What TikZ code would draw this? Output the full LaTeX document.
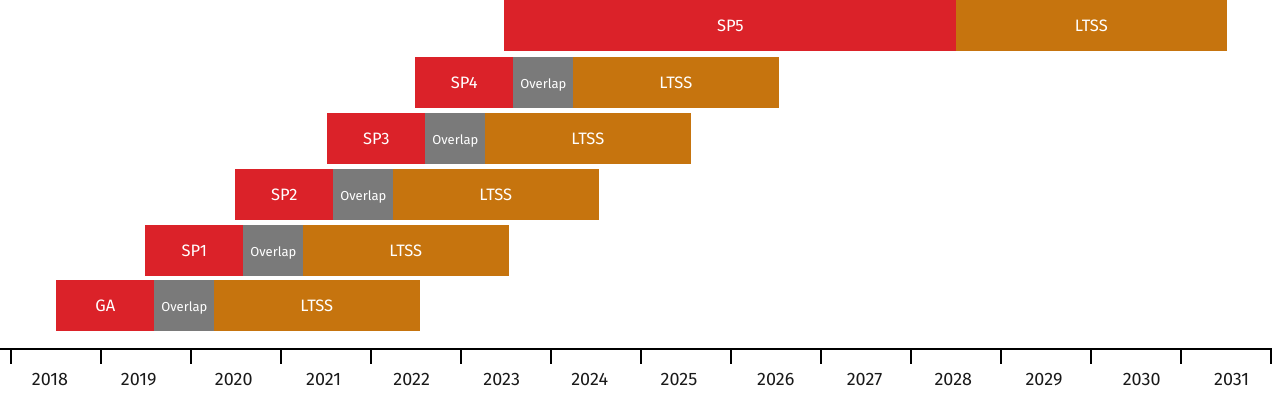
\documentclass[tikz,border=0pt]{standalone}
\usepackage{fontspec}
\setmainfont{Fira Sans}
\definecolor{sred}{RGB}{219,34,41}
\definecolor{sgray}{RGB}{122,122,122}
\definecolor{sorange}{RGB}{198,116,14}
\begin{document}
\begin{tikzpicture}[x=1pt,y=-1pt,
  seg/.style={anchor=north west, inner sep=0pt, minimum height=50pt, text=white,
    text height=11.4pt, text depth=0pt, font=\fontsize{16.5}{16.5}\selectfont, line width=0.6pt},
  relbox/.style={seg, fill=sred, draw=sred, minimum width=98pt},
  ovlbox/.style={seg, fill=sgray, draw=sgray, minimum width=60pt, font=\fontsize{13}{13}\selectfont},
  ltsbox/.style={seg, fill=sorange, draw=sorange, minimum width=205pt},
  axisline/.style={line width=1.8pt, black},
  tickline/.style={line width=1.6pt, black},
  yearlbl/.style={anchor=base, inner sep=0pt, font=\fontsize{18}{18}\selectfont, text=black!90}]
\useasboundingbox (0,0) rectangle (1284,392);
% rows with Overlap
\foreach \nm/\lbl/\x/\t in {r0/GA/56/280, r1/SP1/145/225, r2/SP2/235/169, r3/SP3/327/113, r4/SP4/415/57}{
  \node[relbox] (\nm rel) at (\x,\t) {\lbl};
  \node[ovlbox] (\nm ovl) at ([xshift=-0.6pt]\nm rel.north east) {Overlap};
  \node[ltsbox] (\nm lts) at ([xshift=-0.6pt]\nm ovl.north east) {LTSS};
}
% SP5 row
\node[relbox, minimum width=452pt] (r5rel) at (504,0) {SP5};
\node[ltsbox, minimum width=270pt] (r5lts) at ([xshift=-0.6pt]r5rel.north east) {LTSS};
% axis
\coordinate (axL) at (0,349);
\coordinate (axR) at (1272,349);
\draw[axisline] (axL) -- (axR);
\foreach \k in {0,...,14}{
  \coordinate (tk\k) at (11+90*\k,349);
  \draw[tickline] (tk\k) -- ++(0,15);
}
\foreach \yr/\x in {2018/50, 2019/138.8, 2020/233.7, 2021/323.7, 2022/411.7, 2023/501.7, 2024/589.7, 2025/679, 2026/775.8, 2027/864.5, 2028/953.3, 2029/1044, 2030/1141.7, 2031/1231.7}{
  \node[yearlbl] (y\yr) at (\x,385.7) {\yr};
}
\end{tikzpicture}
\end{document}
